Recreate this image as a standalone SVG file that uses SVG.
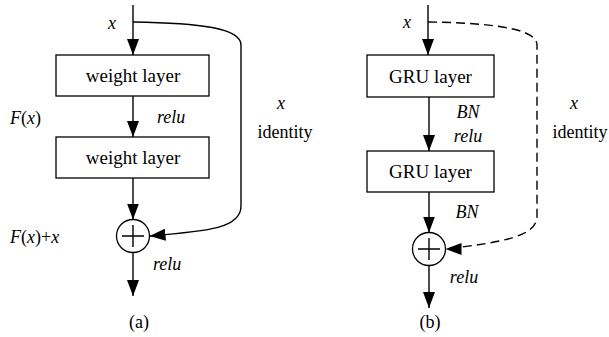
<svg xmlns="http://www.w3.org/2000/svg" width="609" height="337" viewBox="0 0 609 337">
  <defs>
    <marker id="arrow" viewBox="0 0 16 12" refX="16" refY="6" markerWidth="16" markerHeight="12" markerUnits="userSpaceOnUse" orient="auto">
      <path d="M0,0 L16,6 L0,12 Z" fill="#000"/>
    </marker>
  </defs>
  <style>
    .box { fill: #fff; stroke: #000; stroke-width: 1.3; }
    .line { fill: none; stroke: #000; stroke-width: 1.4; }
    .dash { stroke-dasharray: 9 5; }
    .sum { fill: #fff; stroke: #000; stroke-width: 1.3; }
    text { font-family: Liberation Serif, Tinos, Times New Roman, Times, DejaVu Serif, serif; fill: #000; }
    .node { font-size: 19px; text-anchor: middle; }
    .lbl { font-size: 18px; }
    .it { font-style: italic; }
    .mid { text-anchor: middle; }
  </style>

  <!-- panel (a): residual block with weight layers -->
  <g id="a-weight1">
    <rect class="box" x="56" y="55" width="153" height="41"/>
    <text class="node" x="133" y="82">weight layer</text>
  </g>
  <g id="a-weight2">
    <rect class="box" x="56" y="137" width="153" height="41"/>
    <text class="node" x="133" y="164">weight layer</text>
  </g>
  <g id="a-sum">
    <circle class="sum" cx="133" cy="236" r="16.5"/>
    <path class="line" d="M122,236 H144 M133,225 V247"/>
  </g>

  <!-- panel (b): residual block with GRU layers -->
  <g id="b-gru1">
    <rect class="box" x="367" y="55" width="127" height="42"/>
    <text class="node" x="430.5" y="83">GRU layer</text>
  </g>
  <g id="b-gru2">
    <rect class="box" x="367" y="151" width="127" height="41"/>
    <text class="node" x="430.5" y="178">GRU layer</text>
  </g>
  <g id="b-sum">
    <circle class="sum" cx="429" cy="249" r="16.5"/>
    <path class="line" d="M418,249 H440 M429,238 V260"/>
  </g>

  <g id="connectors">
    <!-- (a) main path -->
    <path class="line" d="M133,5 V55" marker-end="url(#arrow)"/>
    <path class="line" d="M133,96 V137" marker-end="url(#arrow)"/>
    <path class="line" d="M133,178 V219.5" marker-end="url(#arrow)"/>
    <path class="line" d="M133,252.5 V296" marker-end="url(#arrow)"/>
    <!-- (a) identity shortcut -->
    <path class="line" d="M133,22 C200,23 241,28 241,45 V206 C241,228 210,231 149.5,236" marker-end="url(#arrow)"/>

    <!-- (b) main path -->
    <path class="line" d="M428,5 V55" marker-end="url(#arrow)"/>
    <path class="line" d="M429,97 V151" marker-end="url(#arrow)"/>
    <path class="line" d="M429,192 V232.5" marker-end="url(#arrow)"/>
    <path class="line" d="M429,265.5 V308" marker-end="url(#arrow)"/>
    <!-- (b) identity shortcut, dashed -->
    <path class="line dash" d="M428,22 C500,23 537,30 537,45 V216 C537,236 505,242 445.5,249"/>
    <path d="M445.5,249 L461.5,243 L461.5,255 Z" fill="#000"/>
  </g>

  <!-- labels (a) -->
  <text class="lbl it mid" x="112" y="29">x</text>
  <text class="lbl" x="10" y="124"><tspan class="it">F</tspan>(<tspan class="it">x</tspan>)</text>
  <text class="lbl it" x="157" y="123">relu</text>
  <text class="lbl it mid" x="281" y="109">x</text>
  <text class="lbl mid" x="285" y="138">identity</text>
  <text class="lbl" x="10" y="243"><tspan class="it">F</tspan>(<tspan class="it">x</tspan>)+<tspan class="it">x</tspan></text>
  <text class="lbl it" x="153" y="270">relu</text>
  <text class="lbl mid" x="139" y="328">(a)</text>

  <!-- labels (b) -->
  <text class="lbl it mid" x="407" y="28">x</text>
  <text class="lbl it mid" x="468" y="118">BN</text>
  <text class="lbl it mid" x="468" y="142">relu</text>
  <text class="lbl it mid" x="574" y="109">x</text>
  <text class="lbl mid" x="580" y="138">identity</text>
  <text class="lbl it mid" x="467" y="218">BN</text>
  <text class="lbl it mid" x="464" y="283">relu</text>
  <text class="lbl mid" x="430" y="328">(b)</text>
</svg>
